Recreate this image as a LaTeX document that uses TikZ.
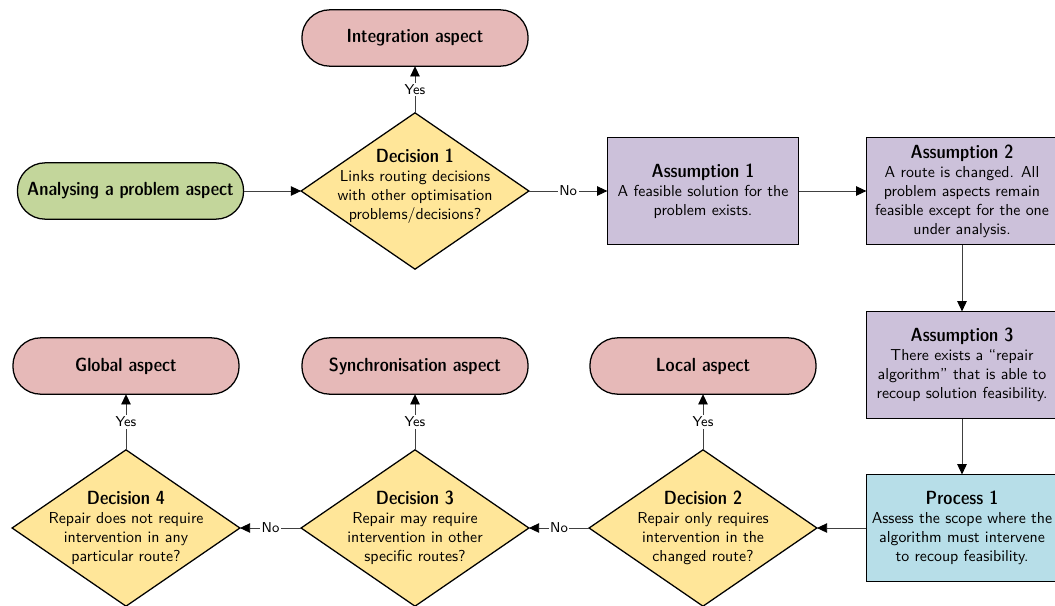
\documentclass[tikz,border=0pt]{standalone}
\usetikzlibrary{shapes.geometric,arrows.meta}

\definecolor{termpink}{HTML}{E6B9B8}
\definecolor{startgreen}{HTML}{C3D69B}
\definecolor{assumelilac}{HTML}{CCC1DA}
\definecolor{procblue}{HTML}{B7DEE8}
\definecolor{decyellow}{HTML}{FFE699}
\definecolor{linkgray}{HTML}{404040}

\newcommand{\headtext}{\large\fontseries{sbc}\selectfont}

\begin{document}
\begin{tikzpicture}[
  x=0.63pt, y=-0.63pt,
  font=\sffamily,
  every node/.style={outer sep=0pt},
  terminal/.style={rectangle, rounded corners=17.5pt, draw=black, line width=0.8pt,
    minimum width=142.5pt, minimum height=35.5pt, font=\sffamily\headtext},
  endpoint/.style={terminal, fill=termpink},
  startpoint/.style={terminal, fill=startgreen},
  infobox/.style={rectangle, draw=black, line width=0.8pt, align=center,
    minimum width=120.5pt, minimum height=67.5pt, inner sep=2pt},
  assume/.style={infobox, fill=assumelilac},
  procbox/.style={infobox, fill=procblue},
  choice/.style={diamond, draw=black, line width=0.8pt, fill=decyellow,
    minimum width=143.5pt, minimum height=98.5pt, inner sep=0pt},
  choicetext/.style={align=center, inner sep=0pt},
  link/.style={draw=linkgray, line width=0.6pt, -{Triangle[length=6.5pt,width=6pt,color=black]}},
  lbl/.style={fill=white, inner sep=1pt, font=\sffamily\small, text=black}
]
\useasboundingbox (0,0) rectangle (1055,605);

% start and outcome terminals
\node[startpoint] (analyse) at (130.5,191) {Analysing a problem aspect};
\node[endpoint] (integ) at (415,38) {Integration aspect};
\node[endpoint] (local) at (703,366) {Local aspect};
\node[endpoint] (sync) at (415,366) {Synchronisation aspect};
\node[endpoint] (global) at (126,366) {Global aspect};

% assumptions and process
\node[assume] (a1) at (703,191) {{\headtext Assumption 1}\\A feasible solution for the\\problem exists.};
\node[assume] (a2) at (962,191) {{\headtext Assumption 2}\\A route is changed. All\\problem aspects remain\\feasible except for the one\\under analysis.};
\node[assume] (a3) at (962,365) {{\headtext Assumption 3}\\There exists a ``repair\\algorithm'' that is able to\\recoup solution feasibility.};
\node[procbox] (p1) at (962,528) {{\headtext Process 1}\\Assess the scope where the\\algorithm must intervene\\to recoup feasibility.};

% decisions
\node[choice] (d1) at (415,191) {};
\node[choicetext] at (415,186) {{\headtext Decision 1}\\Links routing decisions\\with other optimisation\\problems/decisions?};
\node[choice] (d2) at (703,528) {};
\node[choicetext] at (703,528) {{\headtext Decision 2}\\Repair only requires\\intervention in the\\changed route?};
\node[choice] (d3) at (415,528) {};
\node[choicetext] at (415,528) {{\headtext Decision 3}\\Repair may require\\intervention in other\\specific routes?};
\node[choice] (d4) at (126,528) {};
\node[choicetext] at (126,528) {{\headtext Decision 4}\\Repair does not require\\intervention in any\\particular route?};

% connectors
\draw[link] (analyse) -- (d1.west);
\draw[link] (d1.north) -- node[lbl] {Yes} (integ.south);
\draw[link] (d1.east) -- node[lbl] {No} (a1.west);
\draw[link] (a1) -- (a2);
\draw[link] (a2) -- (a3);
\draw[link] (a3) -- (p1);
\draw[link] (p1.west) -- (d2.east);
\draw[link] (d2.north) -- node[lbl] {Yes} (local.south);
\draw[link] (d2.west) -- node[lbl] {No} (d3.east);
\draw[link] (d3.north) -- node[lbl] {Yes} (sync.south);
\draw[link] (d3.west) -- node[lbl] {No} (d4.east);
\draw[link] (d4.north) -- node[lbl] {Yes} (global.south);
\end{tikzpicture}
\end{document}
